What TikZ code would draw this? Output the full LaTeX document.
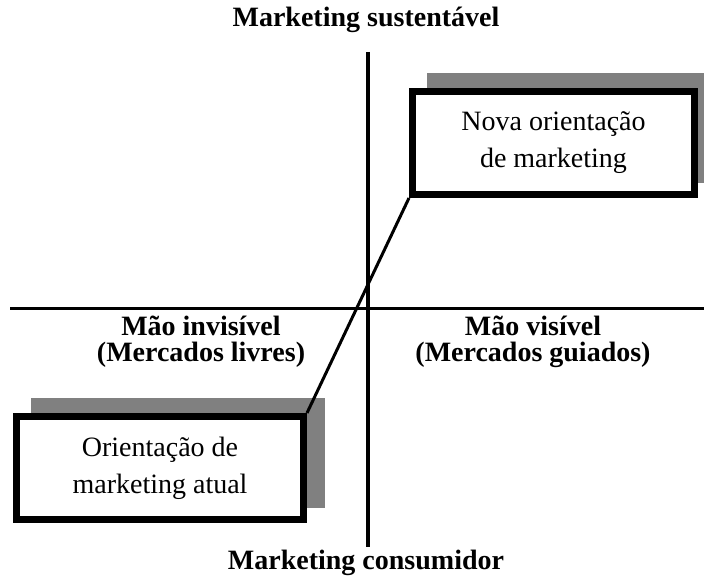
\documentclass[tikz,border=0pt]{standalone}
\usepackage{fontspec}
\setmainfont{Liberation Serif}
\usetikzlibrary{shadows}
\definecolor{shadowgray}{HTML}{808080}
\begin{document}
\begin{tikzpicture}[x=1pt, y=-1pt,
	caixa/.style={draw, line width=7pt, fill=white, align=center,
		inner sep=0pt, font=\fontsize{28}{37}\selectfont,
		drop shadow={shadow xshift=18pt, shadow yshift=15pt, fill=shadowgray,
			draw=shadowgray, line width=7pt, opacity=1}},
	eixo/.style={font=\bfseries\fontsize{28}{26}\selectfont, align=center}]
		% Frame
		\useasboundingbox (0,0) rectangle (704,578);
		
		% Axes
		\coordinate (cima) at (368,52);
		\coordinate (baixo) at (368,547);
		\coordinate (esq) at (10,308);
		\coordinate (dir) at (704,308);
		\draw[line width=3.5pt] (cima) -- (baixo);
		\draw[line width=3pt] (esq) -- (dir);
		
		% Axis labels
		\node[eixo] (sust) at (366,20) {Marketing sustentável};
		\node[eixo] (cons) at (366,563) {Marketing consumidor};
		\node[eixo] (invis) at (201,342) {Mão invisível\\(Mercados livres)};
		\node[eixo] (vis) at (533,342) {Mão visível\\(Mercados guiados)};
		
		% Boxes
		\node[caixa, minimum width=282pt, minimum height=103pt] (nova) at (553.5,143) {Nova orientação\\de marketing};
		\node[caixa, minimum width=287pt, minimum height=103pt] (atual) at (160,468) {Orientação de\\marketing atual};
		
		% Link
		\draw[line width=3pt] (atual.north east) -- (nova.south west);
\end{tikzpicture}
\end{document}
